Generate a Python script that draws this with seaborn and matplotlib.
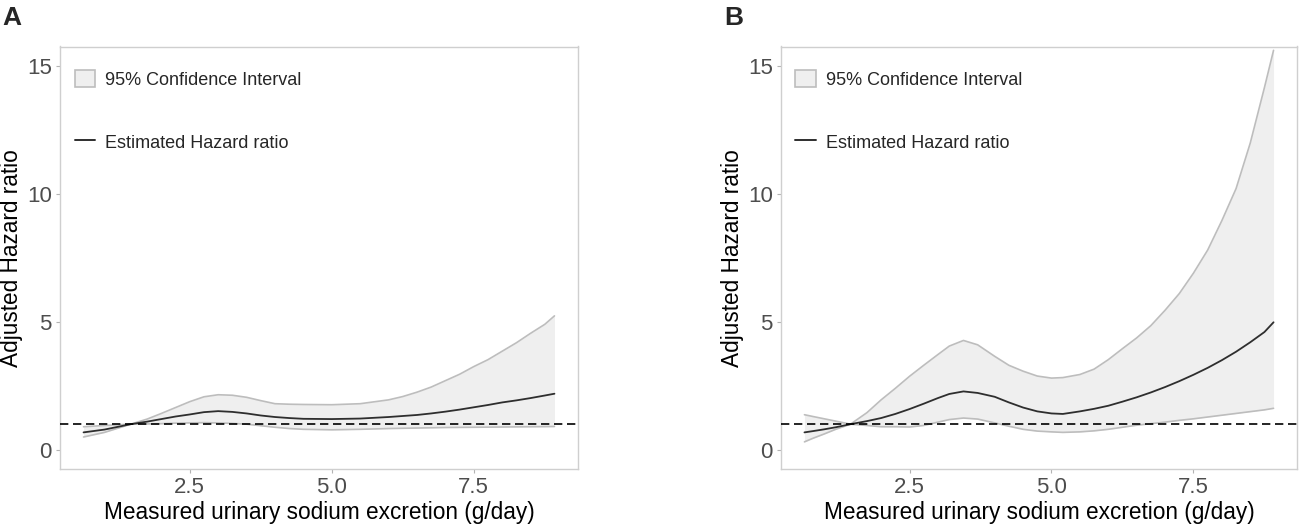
import matplotlib
matplotlib.use("Agg")
import matplotlib.pyplot as plt
import seaborn as sns
import pandas as pd
from matplotlib.patches import Patch
from matplotlib.lines import Line2D

# values
# panel A
A_X = [0.63, 1.0, 1.46, 1.75, 2.0, 2.25, 2.5, 2.75, 3.0, 3.25, 3.5, 3.75, 4.0, 4.25, 4.5, 5.0,
       5.5, 6.0, 6.25, 6.5, 6.75, 7.0, 7.25, 7.5, 7.75, 8.0, 8.25, 8.5, 8.75, 8.92]
A_HR = [0.68, 0.79, 1.0, 1.1, 1.2, 1.3, 1.38, 1.47, 1.51, 1.48, 1.42, 1.34, 1.28, 1.24, 1.21, 1.2,
        1.22, 1.28, 1.32, 1.36, 1.42, 1.49, 1.57, 1.66, 1.75, 1.85, 1.93, 2.02, 2.12, 2.19]
A_UPPER = [0.9, 0.95, 1.0, 1.2, 1.42, 1.65, 1.88, 2.07, 2.15, 2.13, 2.05, 1.92, 1.8, 1.78, 1.77, 1.76,
           1.8, 1.95, 2.08, 2.25, 2.45, 2.7, 2.95, 3.25, 3.52, 3.85, 4.18, 4.55, 4.9, 5.23]
A_LOWER = [0.5, 0.68, 1.0, 1.01, 1.02, 1.04, 1.05, 1.06, 1.05, 1.03, 1.0, 0.94, 0.88, 0.83, 0.8, 0.78,
           0.8, 0.83, 0.84, 0.85, 0.86, 0.87, 0.875, 0.88, 0.885, 0.89, 0.895, 0.9, 0.905, 0.91]

# panel B
B_X = [0.65, 0.8, 1.0, 1.2, 1.46, 1.75, 2.0, 2.25, 2.5, 2.75, 3.0, 3.2, 3.45, 3.7, 4.0, 4.25, 4.5,
       4.75, 5.0, 5.2, 5.5, 5.75, 6.0, 6.25, 6.5, 6.75, 7.0, 7.25, 7.5, 7.75, 8.0, 8.25, 8.5, 8.75, 8.91]
B_HR = [0.68, 0.73, 0.8, 0.88, 1.0, 1.12, 1.24, 1.4, 1.59, 1.8, 2.02, 2.18, 2.28, 2.22, 2.07, 1.85, 1.65,
        1.5, 1.42, 1.4, 1.5, 1.6, 1.72, 1.88, 2.05, 2.24, 2.45, 2.68, 2.93, 3.2, 3.5, 3.83, 4.2, 4.6, 4.98]
B_UPPER = [1.37, 1.3, 1.21, 1.12, 1.0, 1.45, 1.95, 2.4, 2.87, 3.3, 3.72, 4.05, 4.27, 4.1, 3.65, 3.3, 3.07,
           2.88, 2.8, 2.82, 2.94, 3.15, 3.52, 3.95, 4.37, 4.85, 5.45, 6.1, 6.9, 7.8, 8.95, 10.2, 11.98, 14.15, 15.6]
B_LOWER = [0.31, 0.45, 0.62, 0.8, 1.0, 0.95, 0.9, 0.9, 0.89, 0.95, 1.08, 1.18, 1.24, 1.2, 1.05, 0.92, 0.8,
           0.73, 0.7, 0.68, 0.7, 0.74, 0.8, 0.88, 0.96, 1.02, 1.08, 1.15, 1.21, 1.28, 1.35, 1.42, 1.49, 1.56, 1.62]

PANELS = ["A", "B"]
Y_TICKS = [0, 5, 10, 15]
X_TICKS = [2.5, 5.0, 7.5]
X_TICKLABELS = ["2.5", "5.0", "7.5"]
REF_LINE = 1
XLABEL = "Measured urinary sodium excretion (g/day)"
YLABEL = "Adjusted Hazard ratio"
LEGEND_CI = "95% Confidence Interval"
LEGEND_HR = "Estimated Hazard ratio"

FILL = "#efefef"
EDGE = "#bdbdbd"
LINE = "#2e2e2e"
FRAME = "#cfcfcf"
TICKTXT = "#4d4d4d"

sns.set_style("white")
plt.rcParams["font.family"] = ["Liberation Sans", "DejaVu Sans"]

fig = plt.figure(figsize=(12.99, 5.25), dpi=100)
ax_a = fig.add_axes([60 / 1299, 1 - 469 / 525, 518 / 1299, 422.5 / 525])
ax_b = fig.add_axes([781 / 1299, 1 - 469 / 525, 516 / 1299, 422.5 / 525])

data = {
    "A": pd.DataFrame({"x": A_X, "hr": A_HR, "upper": A_UPPER, "lower": A_LOWER}),
    "B": pd.DataFrame({"x": B_X, "hr": B_HR, "upper": B_UPPER, "lower": B_LOWER}),
}

for ax, name in zip([ax_a, ax_b], PANELS):
    df = data[name]
    ax.fill_between(df["x"], df["lower"], df["upper"], color=FILL, linewidth=0, zorder=1)
    sns.lineplot(data=df, x="x", y="upper", ax=ax, color=EDGE, linewidth=1.2, estimator=None, zorder=2)
    sns.lineplot(data=df, x="x", y="lower", ax=ax, color=EDGE, linewidth=1.2, estimator=None, zorder=2)
    sns.lineplot(data=df, x="x", y="hr", ax=ax, color=LINE, linewidth=1.3, estimator=None, zorder=3)
    ax.axhline(REF_LINE, color="black", linestyle=(0, (5, 2.8)), linewidth=1.2, zorder=4)

    xr = df["x"].max() - df["x"].min()
    ax.set_xlim(df["x"].min() - 0.05 * xr, df["x"].max() + 0.05 * xr)
    ax.set_ylim(-0.75, 15.75)
    ax.set_xticks(X_TICKS)
    ax.set_xticklabels(X_TICKLABELS)
    ax.set_yticks(Y_TICKS)
    ax.tick_params(axis="both", labelsize=16, labelcolor=TICKTXT, color="#b3b3b3",
                   length=3, width=0.8, direction="out", bottom=True, left=True)
    ax.tick_params(axis="x", pad=3)
    ax.tick_params(axis="y", pad=3)
    for s in ax.spines.values():
        s.set_visible(True)
        s.set_color(FRAME)
        s.set_linewidth(1.0)

    ax.set_xlabel(XLABEL, fontsize=16.3, color="black")
    ax.set_ylabel(YLABEL, fontsize=16.3, color="black")
    ax.xaxis.set_label_coords(0.5, -0.075)
    ax.yaxis.set_label_coords(-0.072, 0.5)

    handles = [
        Patch(facecolor=FILL, edgecolor=EDGE, linewidth=1.2),
        Line2D([0], [0], color=LINE, linewidth=1.4),
    ]
    ax.legend(handles, [LEGEND_CI, LEGEND_HR], loc="upper left",
              bbox_to_anchor=(0.028, 0.945), frameon=False, fontsize=13,
              borderpad=0, borderaxespad=0, handlelength=1.15, handleheight=1.1,
              handletextpad=0.55, labelspacing=2.45)

fig.text(2 / 1299, 1 - 6 / 525, "A", fontsize=19, fontweight="bold", va="top", ha="left")
fig.text(724 / 1299, 1 - 6 / 525, "B", fontsize=19, fontweight="bold", va="top", ha="left")

fig.savefig("out.png", dpi=100)
